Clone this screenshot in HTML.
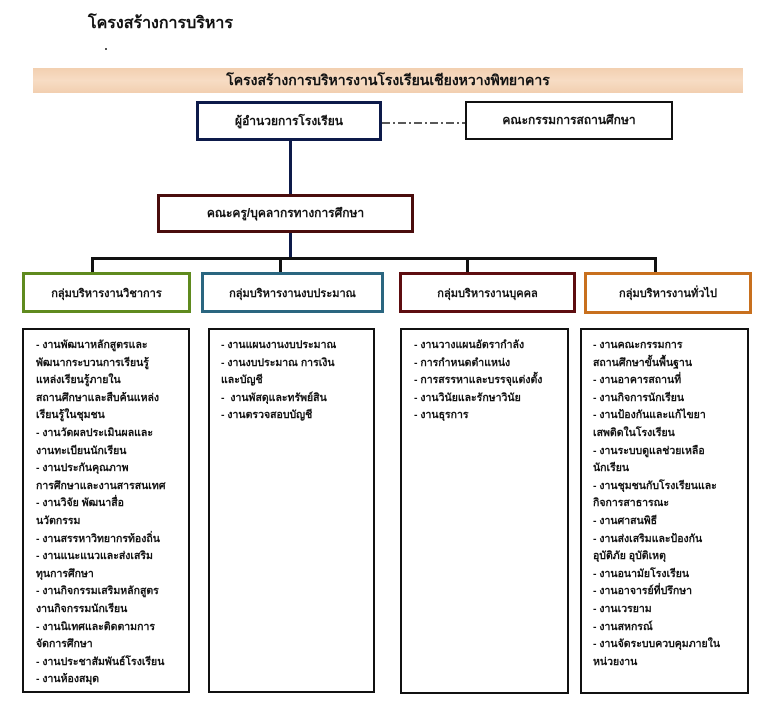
<!DOCTYPE html>
<html><head><meta charset="utf-8"><style>
body{margin:0;width:772px;height:710px;background:#fff;position:relative;overflow:hidden;font-family:"Liberation Sans","Noto Sans CJK SC","WenQuanYi Zen Hei",sans-serif;font-weight:bold;color:#111}
.a{position:absolute;box-sizing:border-box}
.b{display:flex;align-items:center;justify-content:center;font-size:12px;background:#fff}
.c{border:2px solid #111;font-size:10.5px;line-height:17.6px;padding:7px 6px 0 12px;white-space:nowrap}
.l{background:#111}
</style></head><body>
<div class="a" style="left:88px;top:11px;font-size:16px">โครงสร้างการบริหาร</div>
<div class="a" style="left:105px;top:48px;width:2px;height:2px;background:#555"></div>
<div class="a b" style="left:33px;top:68px;width:710px;height:25px;background:linear-gradient(#f2cfb0,#f7dcc4,#f2cfb0);font-size:14px">โครงสร้างการบริหารงานโรงเรียนเชียงหวางพิทยาคาร</div>
<div class="a b" style="left:196px;top:101px;width:186px;height:40px;border:3px solid #0d1a4a">ผู้อำนวยการโรงเรียน</div>
<div class="a b" style="left:465px;top:101px;width:208px;height:39px;border:2px solid #111">คณะกรรมการสถานศึกษา</div>
<svg class="a" style="left:382px;top:121px" width="83" height="4"><line x1="0" y1="2" x2="83" y2="2" stroke="#222" stroke-width="1.5" stroke-dasharray="8,3,2,3"/></svg>
<div class="a" style="left:289px;top:141px;width:3px;height:53px;background:#0d1a4a"></div>
<div class="a b" style="left:157px;top:194px;width:257px;height:39px;border:3px solid #4a0d0d">คณะครู/บุคลากรทางการศึกษา</div>
<div class="a" style="left:289px;top:233px;width:3px;height:25px;background:#0d1a4a"></div>
<div class="a l" style="left:91px;top:257px;width:566px;height:3px"></div>
<div class="a l" style="left:91px;top:257px;width:3px;height:15px"></div>
<div class="a l" style="left:279px;top:257px;width:3px;height:15px"></div>
<div class="a l" style="left:466px;top:257px;width:3px;height:15px"></div>
<div class="a l" style="left:654px;top:257px;width:3px;height:15px"></div>
<div class="a b" style="left:22px;top:272px;width:169px;height:41px;border:3px solid #5f8a1e;font-size:11px">กลุ่มบริหารงานวิชาการ</div>
<div class="a b" style="left:201px;top:272px;width:183px;height:41px;border:3px solid #2a6680;font-size:11px">กลุ่มบริหารงานงบประมาณ</div>
<div class="a b" style="left:399px;top:272px;width:177px;height:41px;border:3px solid #5e0d10;font-size:11px">กลุ่มบริหารงานบุคคล</div>
<div class="a b" style="left:584px;top:272px;width:168px;height:42px;border:3px solid #c8701e;font-size:11px">กลุ่มบริหารงานทั่วไป</div>
<div class="a c" style="left:22px;top:328px;width:168px;height:365px">- งานพัฒนาหลักสูตรและ<br>พัฒนากระบวนการเรียนรู้<br>แหล่งเรียนรู้ภายใน<br>สถานศึกษาและสืบค้นแหล่ง<br>เรียนรู้ในชุมชน<br>- งานวัดผลประเมินผลและ<br>งานทะเบียนนักเรียน<br>- งานประกันคุณภาพ<br>การศึกษาและงานสารสนเทศ<br>- งานวิจัย พัฒนาสื่อ<br>นวัตกรรม<br>- งานสรรหาวิทยากรท้องถิ่น<br>- งานแนะแนวและส่งเสริม<br>ทุนการศึกษา<br>- งานกิจกรรมเสริมหลักสูตร<br>งานกิจกรรมนักเรียน<br>- งานนิเทศและติดตามการ<br>จัดการศึกษา<br>- งานประชาสัมพันธ์โรงเรียน<br>- งานห้องสมุด</div>
<div class="a c" style="left:208px;top:328px;width:167px;height:365px;padding-left:11px">- งานแผนงานงบประมาณ<br>- งานงบประมาณ การเงิน<br>และบัญชี<br>-&nbsp; งานพัสดุและทรัพย์สิน<br>- งานตรวจสอบบัญชี</div>
<div class="a c" style="left:400px;top:328px;width:169px;height:366px;padding-left:12px">- งานวางแผนอัตรากำลัง<br>- การกำหนดตำแหน่ง<br>- การสรรหาและบรรจุแต่งตั้ง<br>- งานวินัยและรักษาวินัย<br>- งานธุรการ</div>
<div class="a c" style="left:580px;top:328px;width:169px;height:366px;padding-left:11px">- งานคณะกรรมการ<br>สถานศึกษาขั้นพื้นฐาน<br>- งานอาคารสถานที่<br>- งานกิจการนักเรียน<br>- งานป้องกันและแก้ไขยา<br>เสพติดในโรงเรียน<br>- งานระบบดูแลช่วยเหลือ<br>นักเรียน<br>- งานชุมชนกับโรงเรียนและ<br>กิจการสาธารณะ<br>- งานศาสนพิธี<br>- งานส่งเสริมและป้องกัน<br>อุบัติภัย อุบัติเหตุ<br>- งานอนามัยโรงเรียน<br>- งานอาจารย์ที่ปรึกษา<br>- งานเวรยาม<br>- งานสหกรณ์<br>- งานจัดระบบควบคุมภายใน<br>หน่วยงาน</div>
</body></html>
